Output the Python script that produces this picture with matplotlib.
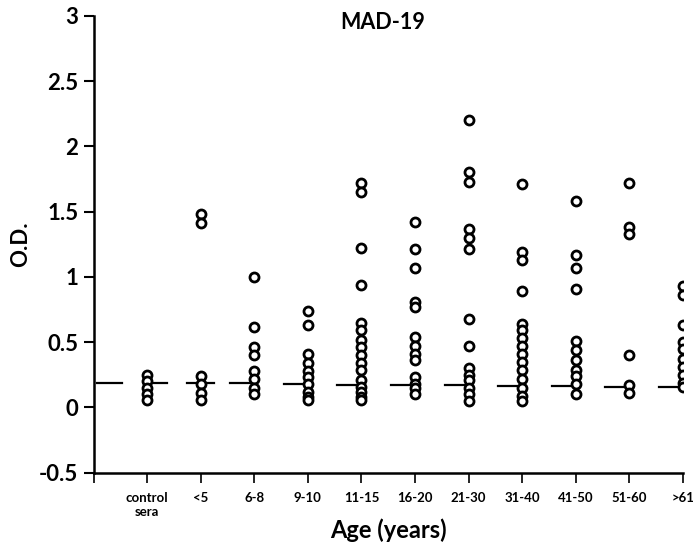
import numpy as np
import matplotlib.pyplot as plt

plt.rcParams['font.family'] = ['Lato', 'DejaVu Sans']

# age groups and O.D. readings
groups = ["control\nsera", "<5", "6-8", "9-10", "11-15", "16-20",
          "21-30", "31-40", "41-50", "51-60", ">61"]

od_control = [0.25, 0.20, 0.15, 0.10, 0.06]
od_lt5 = [1.48, 1.41, 0.24, 0.18, 0.11, 0.06]
od_6_8 = [1.00, 0.62, 0.46, 0.40, 0.28, 0.22, 0.15, 0.10]
od_9_10 = [0.74, 0.63, 0.41, 0.34, 0.28, 0.23, 0.18, 0.12, 0.08, 0.06]
od_11_15 = [1.72, 1.65, 1.22, 0.94, 0.65, 0.59, 0.52, 0.46, 0.40, 0.34,
            0.29, 0.21, 0.16, 0.12, 0.08, 0.06]
od_16_20 = [1.42, 1.21, 1.07, 0.81, 0.77, 0.54, 0.47, 0.41, 0.36, 0.23,
            0.18, 0.15, 0.10]
od_21_30 = [2.20, 1.80, 1.73, 1.37, 1.30, 1.21, 0.68, 0.47, 0.30, 0.25,
            0.21, 0.15, 0.10, 0.05]
od_31_40 = [1.71, 1.19, 1.13, 0.89, 0.64, 0.59, 0.53, 0.47, 0.41, 0.35,
            0.29, 0.22, 0.15, 0.09, 0.05]
od_41_50 = [1.58, 1.17, 1.07, 0.91, 0.51, 0.44, 0.36, 0.29, 0.24, 0.18, 0.10]
od_51_60 = [1.72, 1.38, 1.33, 0.40, 0.17, 0.11]
od_gt61 = [0.93, 0.86, 0.63, 0.50, 0.45, 0.37, 0.31, 0.25, 0.19, 0.16]

medians = [0.19, 0.19, 0.185, 0.18, 0.175, 0.175, 0.17, 0.165, 0.165, 0.16, 0.16]

all_od = [od_control, od_lt5, od_6_8, od_9_10, od_11_15, od_16_20,
          od_21_30, od_31_40, od_41_50, od_51_60, od_gt61]

fig = plt.figure(figsize=(6.93, 5.5), dpi=100)
ax = fig.add_axes([0.135, 0.1405, 0.8506, 0.8308])

for i, vals in enumerate(all_od):
    xpos = i + 1
    ax.plot([xpos] * len(vals), vals, "o", mfc="white", mec="black",
            ms=6.5, mew=2.0, zorder=3)
    # median bar, mostly drawn to the left of each column
    if i == 0:
        ax.plot([0.06, 0.54], [medians[i]] * 2, "k-", lw=1.6)
        ax.plot([1.0, 1.37], [medians[i]] * 2, "k-", lw=1.6)
    elif i == 1:
        ax.plot([xpos - 0.25, xpos + 0.25], [medians[i]] * 2, "k-", lw=1.6)
    else:
        ax.plot([xpos - 0.45, xpos], [medians[i]] * 2, "k-", lw=1.6)

ax.set_xlim(0, 11)
ax.set_ylim(-0.5, 3)
ax.set_xticks(range(0, 12))
ax.set_xticklabels([""] + groups, fontsize=9.5, fontweight="bold")
ax.set_yticks(np.arange(-0.5, 3.01, 0.5))
ax.set_yticklabels(["-0.5", "0", "0.5", "1", "1.5", "2", "2.5", "3"],
                   fontsize=16, fontweight="bold")
ax.tick_params(axis="y", length=7, width=1.5, pad=4)
ax.tick_params(axis="x", length=7, width=1.2, pad=7)

for s in ["top", "right"]:
    ax.spines[s].set_visible(False)
for s in ["left", "bottom"]:
    ax.spines[s].set_linewidth(1.8)

ax.text(0.49, 2.95, "MAD-19", ha="center", va="center", fontsize=15.5,
        fontweight="bold", transform=ax.get_yaxis_transform())
ax.set_xlabel("Age (years)", fontsize=17, fontweight="bold", labelpad=0)
ax.set_ylabel("O.D.", fontsize=16, fontweight="bold", labelpad=6)

plt.savefig("out.png", dpi=100)
